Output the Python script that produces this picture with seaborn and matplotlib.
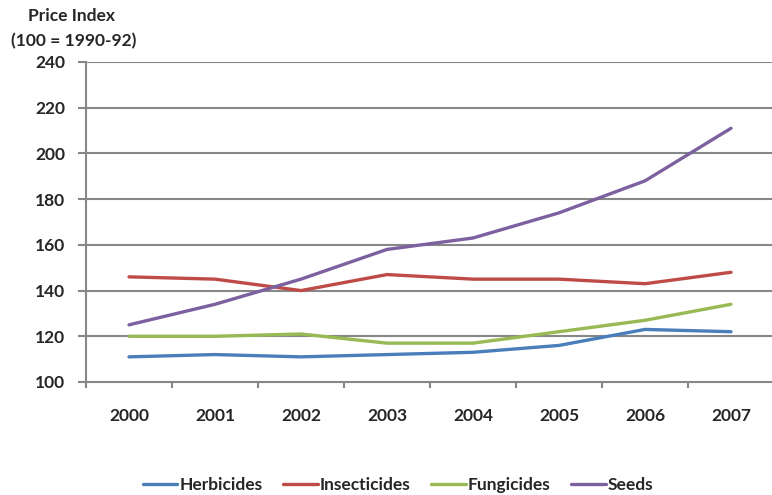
import matplotlib
matplotlib.use("Agg")
import matplotlib.pyplot as plt
from matplotlib.ticker import FixedLocator
import seaborn as sns
import pandas as pd

years = ["2000", "2001", "2002", "2003", "2004", "2005", "2006", "2007"]
herbicides = [111, 112, 111, 112, 113, 116, 123, 122]
insecticides = [146, 145, 140, 147, 145, 145, 143, 148]
fungicides = [120, 120, 121, 117, 117, 122, 127, 134]
seeds = [125, 134, 145, 158, 163, 174, 188, 211]
series_names = ["Herbicides", "Insecticides", "Fungicides", "Seeds"]
colors = ["#4A7EBB", "#BE4B48", "#98B954", "#7D60A0"]
y_ticks = [100, 120, 140, 160, 180, 200, 220, 240]

sns.set_theme(style="white")
plt.rcParams["font.family"] = ["Lato", "DejaVu Sans"]
plt.rcParams["font.weight"] = "bold"

rows = []
for name, vals in zip(series_names, [herbicides, insecticides, fungicides, seeds]):
    for i, (yr, v) in enumerate(zip(years, vals)):
        rows.append({"pos": i, "Year": yr, "Index": v, "Series": name})
df = pd.DataFrame(rows)

fig = plt.figure(figsize=(7.72, 4.95), dpi=100)
ax = fig.add_axes([86 / 772, 1 - 382 / 495, 688 / 772, 320 / 495])

grid_c = "#878787"
for t in y_ticks[1:]:
    ax.axhline(t, color=grid_c, lw=1.5, zorder=0)

sns.lineplot(data=df, x="pos", y="Index", hue="Series", hue_order=series_names,
             palette=colors, linewidth=2.4, legend=False, ax=ax, zorder=3)

ax.set_xlim(-0.5, len(years) - 0.5)
ax.set_ylim(100, 240)
ax.set_yticks(y_ticks)
ax.set_yticklabels([str(t) for t in y_ticks], fontsize=12.5, fontweight="bold")
ax.set_xticks(range(len(years)))
ax.set_xticklabels(years, fontsize=12.5, fontweight="bold")
ax.xaxis.set_minor_locator(FixedLocator([i + 0.5 for i in range(-1, len(years))]))
ax.tick_params(axis="x", which="major", length=0, pad=19)
ax.tick_params(axis="x", which="minor", length=4, width=1.5, color=grid_c, bottom=True)
ax.tick_params(axis="y", which="major", length=6, width=1.5, color=grid_c, pad=9, left=True)
ax.set_xlabel("")
ax.set_ylabel("")

for side in ["top", "right"]:
    ax.spines[side].set_visible(False)
for side in ["left", "bottom"]:
    ax.spines[side].set_color(grid_c)
    ax.spines[side].set_linewidth(1.5)

fig.text(72 / 772, 1 - 16 / 495, "Price Index", ha="center", va="center",
         fontsize=12.5, fontweight="bold")
fig.text(74 / 772, 1 - 41 / 495, "(100 = 1990-92)", ha="center", va="center",
         fontsize=12.5, fontweight="bold")

handles = [plt.Line2D([], [], color=c, lw=2.4) for c in colors]
fig.legend(handles, series_names, loc="center", bbox_to_anchor=(398 / 772, 1 - 485 / 495),
           ncol=4, frameon=False, handlelength=2.0, handletextpad=0.1,
           columnspacing=1.2, prop={"size": 12.5, "weight": "bold"})

fig.savefig("out.png", dpi=100)
